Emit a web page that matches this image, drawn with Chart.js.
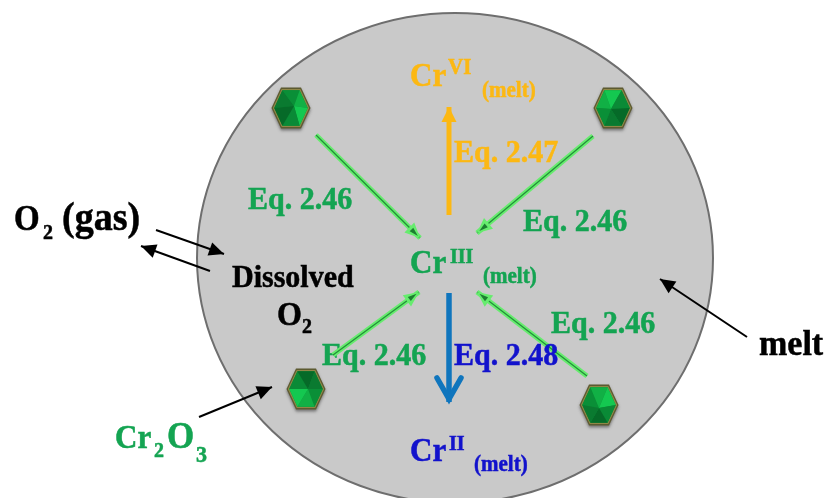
<!DOCTYPE html>
<html>
<head>
<meta charset="utf-8">
<style>
  html, body { margin: 0; padding: 0; background: #fff; }
  canvas { display: block; }
</style>
<script src="https://cdn.jsdelivr.net/npm/chart.js@4"></script>
</head>
<body>
<canvas id="diagram" width="829" height="498"></canvas>
<script>
// melt blob, in picture units
var meltCenter = [455, 258];
var meltRadius = [258, 245];

// crystals
var gemX = [291, 613, 306, 599];
var gemY = [109, 109, 390, 406];

// arrows: from -> to
var greenFrom = [[316, 135], [593, 136], [333, 355], [587, 376]];
var greenTo = [[420, 238], [477, 233], [419, 292], [477, 292]];
var orangeFrom = [449, 215];
var orangeTo = [449, 107];
var blueFrom = [449, 293];
var blueTo = [449, 402];
var blackFrom = [[156, 230], [210, 271], [747, 337], [199, 417]];
var blackTo = [[224, 254], [141, 246], [660, 279], [272, 387]];

// text
var labelText = ['Eq. 2.46', 'Eq. 2.46', 'Eq. 2.46', 'Eq. 2.46', 'Eq. 2.47', 'Eq. 2.48',
  'Cr', 'VI', '(melt)', 'Cr', 'III', '(melt)', 'Cr', 'II', '(melt)',
  'O', '2', '(gas)', 'Dissolved', 'O', '2', 'melt', 'Cr', '2', 'O', '3'];
var labelX = [248, 523, 322, 551, 454, 454,
  410, 448, 482, 410, 450, 483, 410, 449, 474,
  14, 43, 62, 232, 277, 302, 759, 115, 154, 167, 196];
var labelY = [209, 231, 365, 333, 162, 365,
  86, 74, 97, 273, 263, 283, 461, 450, 471,
  230, 239, 230, 287, 325, 333, 355, 448, 457, 448, 462];
var labelSize = [30, 30, 30, 30, 30, 30,
  31, 21, 21, 31, 20, 21, 31, 20, 21,
  33, 20, 38, 30, 32, 20, 34, 31, 20, 35, 22];

var GREEN = '#14a452', ORANGE = '#fcb813', BLUE = '#1212cc', BLACK = '#000';
var labelColor = [GREEN, GREEN, GREEN, GREEN, ORANGE, BLUE,
  ORANGE, ORANGE, ORANGE, GREEN, GREEN, GREEN, BLUE, BLUE, BLUE,
  BLACK, BLACK, BLACK, BLACK, BLACK, BLACK, BLACK, GREEN, GREEN, GREEN, GREEN];

var pt = function(p){ return {x: p[0], y: p[1]}; };

// little faceted crystal used as point image
var makeGem = function(ox, oy, turn){
  var c = document.createElement('canvas');
  c.width = 48;
  c.height = 52;
  var g = c.getContext('2d');
  g.translate(24, 25);
  var hex = [[-19.5, 0], [-10, -20.5], [10, -20.5], [19.5, 0], [10, 20.5], [-10, 20.5]];
  var path = function(s){
    g.beginPath();
    hex.forEach(function(h, i){
      if(i == 0) g.moveTo(h[0]*s, h[1]*s); else g.lineTo(h[0]*s, h[1]*s);
    });
    g.closePath();
  };
  g.save();
  g.shadowColor = 'rgba(60,60,60,0.6)';
  g.shadowBlur = 3;
  g.shadowOffsetY = 2;
  g.fillStyle = '#5c5a30';
  path(1);
  g.fill();
  g.restore();
  g.fillStyle = '#8f8747';
  path(0.93);
  g.fill();
  g.fillStyle = '#0a8a36';
  path(0.86);
  g.fill();
  var shades = ['#0a7a30', '#0a8f37', '#11b045', '#14c850', '#0a8a36', '#066a28'];
  for(var i = 0; i < 6; i++){
    var a = hex[i], b = hex[(i+1)%6];
    g.beginPath();
    g.moveTo(ox, oy);
    g.lineTo(a[0]*0.86, a[1]*0.86);
    g.lineTo(b[0]*0.86, b[1]*0.86);
    g.closePath();
    g.fillStyle = shades[(i+turn)%6];
    g.fill();
  }
  return c;
};

var datasets = [];

// the bold arrows and the crystals go through normal datasets
var addArrow = function(from, to, color, width, head){
  datasets.push({
    type: 'line',
    data: [pt(from), pt(to)],
    borderColor: color,
    borderWidth: width,
    borderCapStyle: 'butt',
    pointRadius: 0,
    fill: false,
    head: head
  });
};

// first dataset ends up on top, so dark core before glow
greenFrom.forEach(function(f, i){
  addArrow(f, greenTo[i], '#23913a', 1.3, {len: 9, wide: 5, color: '#1c7f30', back: 3});
  addArrow(f, greenTo[i], '#66ec6e', 5, {len: 15, wide: 14, color: '#66ec6e', back: 0});
});
addArrow(orangeFrom, orangeTo, '#fcb813', 5, {len: 15, wide: 15, color: '#fcb813', back: 0});
addArrow(blueFrom, blueTo, '#0f75bd', 5.5, {len: 21, wide: 24, color: '#0f75bd', open: true, back: 3});
blackFrom.forEach(function(f, i){
  addArrow(f, blackTo[i], '#000', 2, {len: 15, wide: 14, color: '#000', back: 0});
});

datasets.push({
  type: 'scatter',
  data: gemX.map(function(x, i){ return {x: x, y: gemY[i]}; }),
  pointStyle: [makeGem(3, -2, 0), makeGem(-2, 1, 2), makeGem(2, 0, 4), makeGem(0, 3, 1)],
  pointRadius: 20,
  showLine: false
});

var drawLabel = function(ctx, chart, i){
  var x = chart.scales.x.getPixelForValue(labelX[i]);
  var y = chart.scales.y.getPixelForValue(labelY[i]);
  ctx.save();
  ctx.translate(x, y);
  ctx.scale(1, 1.07); // the source type is a bit taller than Liberation
  ctx.font = 'bold ' + labelSize[i] + 'px "Liberation Serif"';
  ctx.fillStyle = labelColor[i];
  ctx.strokeStyle = labelColor[i];
  ctx.lineWidth = 0.5;
  ctx.textAlign = 'left';
  ctx.textBaseline = 'alphabetic';
  ctx.filter = 'blur(0.35px)';
  ctx.fillText(labelText[i], 0, 0);
  ctx.strokeText(labelText[i], 0, 0);
  ctx.restore();
};

var diagramPlugin = {
  id: 'diagramPlugin',
  beforeDatasetsDraw: function(chart){
    var ctx = chart.ctx, sx = chart.scales.x, sy = chart.scales.y;
    var cx = sx.getPixelForValue(meltCenter[0]), cy = sy.getPixelForValue(meltCenter[1]);
    var rx = sx.getPixelForValue(meltCenter[0] + meltRadius[0]) - cx;
    var ry = sy.getPixelForValue(meltCenter[1] + meltRadius[1]) - cy;
    ctx.save();
    ctx.beginPath();
    ctx.ellipse(cx, cy, rx, ry, 0, 0, Math.PI*2);
    ctx.fillStyle = '#c9c9c9';
    ctx.fill();
    ctx.lineWidth = 2;
    ctx.strokeStyle = '#6e6e6e';
    ctx.stroke();
    // lower left label sits under its arrow
    drawLabel(ctx, chart, 2);
    ctx.restore();
  },
  afterDatasetsDraw: function(chart){
    var ctx = chart.ctx;
    ctx.save();
    // heads, back to front like the lines
    for(var d = chart.data.datasets.length - 1; d >= 0; d--){
      var head = chart.data.datasets[d].head;
      if(!head) continue;
      var pts = chart.getDatasetMeta(d).data;
      var a = pts[0], b = pts[1];
      var ang = Math.atan2(b.y - a.y, b.x - a.x);
      ctx.save();
      ctx.translate(b.x, b.y);
      ctx.rotate(ang);
      if(head.open){
        ctx.beginPath();
        ctx.moveTo(-head.back - head.len, -head.wide/2);
        ctx.lineTo(-head.back, 0);
        ctx.lineTo(-head.back - head.len, head.wide/2);
        ctx.lineWidth = 5.5;
        ctx.lineJoin = 'miter';
        ctx.lineCap = 'round';
        ctx.strokeStyle = head.color;
        ctx.stroke();
      }
      else{
        ctx.beginPath();
        ctx.moveTo(-head.back, 0);
        ctx.lineTo(-head.back - head.len, -head.wide/2);
        ctx.lineTo(-head.back - head.len, head.wide/2);
        ctx.closePath();
        ctx.fillStyle = head.color;
        ctx.fill();
      }
      ctx.restore();
    }
    for(var i = 0; i < labelText.length; i++){
      if(i != 2) drawLabel(ctx, chart, i);
    }
    ctx.restore();
  }
};

new Chart(document.getElementById('diagram').getContext('2d'), {
  type: 'scatter',
  data: {datasets: datasets},
  options: {
    responsive: false,
    animation: false,
    layout: {padding: 0, autoPadding: false},
    plugins: {legend: {display: false}, tooltip: {enabled: false}},
    scales: {
      x: {type: 'linear', min: 0, max: 829, display: false},
      y: {type: 'linear', min: 0, max: 498, reverse: true, display: false}
    }
  },
  plugins: [diagramPlugin]
});
</script>
</body>
</html>
